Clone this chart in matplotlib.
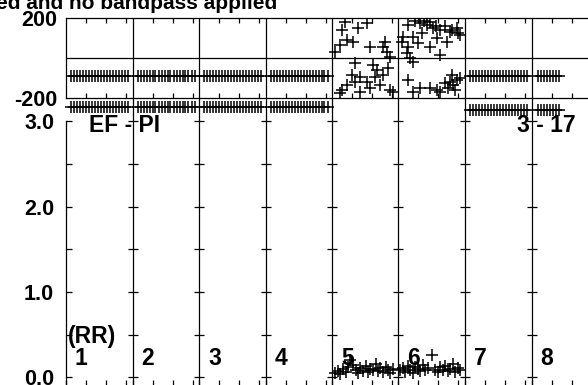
import matplotlib
matplotlib.use("Agg")
import matplotlib.pyplot as plt

plt.rcParams["font.family"] = ["Liberation Sans", "DejaVu Sans"]
plt.rcParams["font.weight"] = "bold"
plt.rcParams["axes.unicode_minus"] = False

# one segment per station, local time axis in each (units of the small ticks)
SEG = 3.325
stations = ["1", "2", "3", "4", "5", "6", "7", "8"]

# regular sampling used for the flat traces
full_times = [0.25, 0.40, 0.55, 0.70, 0.85, 1.00, 1.15, 1.30, 1.45, 1.60,
              1.75, 1.90, 2.05, 2.20, 2.35, 2.50, 2.65, 2.80, 2.95, 3.10]
short_times = [0.30, 0.45, 0.60, 0.75, 0.90, 1.05, 1.20, 1.35]

# flat traces in the upper panel (None = no flat trace for that station)
upper_level = [-90, -90, -90, -90, None, None, -90, -90]
lower_level = [-242, -242, -242, -242, None, None, -258, -258]
trace_len = ["full", "full", "full", "full", None, None, "full", "short"]

# scattered values for stations 5 and 6, upper panel
st5_t = [0.65, 1.75, 1.30, 0.50, 0.75, 1.05, 0.40, 0.15, 1.90, 2.65, 2.55, 2.75,
         2.90, 1.15, 2.05, 2.25, 2.80, 1.00, 1.40, 1.15, 0.75, 0.50, 1.75, 1.90,
         2.40, 1.40, 0.40, 2.15, 2.55, 2.90, 3.05]
st5_v = [180, 175, 150, 140, 91, 81, 66, 31, 56, 81, 56, 31,
         6, -24, -34, -58, -48, -83, -93, -118, -133, -158, -118, -148,
         -133, -168, -172, -93, -83, -158, -168]
st6_t = [0.48, 1.08, 1.43, 1.73, 2.08, 2.58, 2.93, 2.98, 0.23, 0.73, 1.18, 1.93,
         2.43, 0.18, 0.48, 0.98, 1.58, 2.08, 0.58, 0.73, 0.43, 0.83, 1.28, 1.58,
         1.88, 2.33, 2.68, 3.08,
         0.48, 1.08, 1.58, 1.93, 2.33, 2.58, 2.73, 2.93, 2.48, 0.73, 2.08, 2.83,
         2.68, 3.08]
st6_v = [165, 175, 165, 150, 140, 130, 150, 125, 106, 106, 125, 101,
         81, 81, 56, 76, 56, 16, 1, -19, 26, 185, 185, 180,
         160, 160, 140, 115,
         -108, -148, -148, -158, -123, -118, -133, -108, -148, -168, -168, -158,
         -83, -98]

# RR values for stations 5 and 6, lower panel
rr5_t = [0.15, 0.30, 0.42, 0.55, 0.68, 0.80, 0.92, 1.05, 1.18, 1.30, 1.42, 1.55,
         1.68, 1.80, 1.92, 2.05, 2.18, 2.30, 2.42, 2.55, 2.68, 2.80, 2.92, 3.05]
rr5_v = [0.05, 0.07, 0.04, 0.10, 0.06, 0.12, 0.20, 0.14, 0.09, 0.05, 0.11, 0.07,
         0.13, 0.06, 0.10, 0.08, 0.15, 0.07, 0.11, 0.06, 0.12, 0.09, 0.05, 0.10]
rr6_t = [0.10, 0.22, 0.35, 0.48, 0.60, 0.72, 0.85, 0.98, 1.10, 1.22, 1.35, 1.48,
         1.70, 1.85, 1.98, 2.10, 2.22, 2.35, 2.48, 2.60, 2.72, 2.85, 2.98, 3.10]
rr6_v = [0.08, 0.11, 0.06, 0.13, 0.09, 0.05, 0.12, 0.10, 0.07, 0.14, 0.08, 0.11,
         0.26, 0.09, 0.06, 0.12, 0.08, 0.13, 0.07, 0.10, 0.15, 0.06, 0.11, 0.09]

W, H = 588, 385
FS = 15.5


def px_box(x0, y0, x1, y1):
    return [x0 / W, 1 - y1 / H, (x1 - x0) / W, (y1 - y0) / H]


fig = plt.figure(figsize=(W / 100, H / 100), dpi=100)
ax_top = fig.add_axes(px_box(66, 18, 640, 98.5))
ax_bot = fig.add_axes(px_box(66, 121.3, 640, 387))

xmax = (640 - 66) / 20
mk = dict(ls="none", marker="+", ms=9, mew=1.1, color="black")

# upper panel
for i, st in enumerate(stations):
    x0 = i * SEG
    if trace_len[i] is None:
        continue
    times = full_times if trace_len[i] == "full" else short_times
    xs = [x0 + t for t in times]
    ax_top.plot(xs, [upper_level[i]] * len(xs), **mk)
    ax_top.plot(xs, [lower_level[i]] * len(xs), clip_on=False, **mk)

ax_top.plot([4 * SEG + t for t in st5_t], st5_v, **mk)
ax_top.plot([5 * SEG + t for t in st6_t], st6_v, **mk)
ax_top.axhline(0, color="black", lw=0.9)

small = [k * SEG + j for k in range(9) for j in (1, 2, 3)]
ax_top.set_xticks(small)
ax_top.set_yticks([-200, 200])
ax_top.set_yticklabels(["-200", "200"], fontsize=FS, fontweight="bold")
ax_top.tick_params(axis="x", direction="in", top=True, bottom=True, length=3.3,
                   width=0.9, labelbottom=False)
ax_top.tick_params(axis="y", length=0, pad=6.5)
ax_top.set_xlim(0, xmax)  # after set_xticks, which widens the view
ax_top.set_ylim(-200, 200)
for s in ax_top.spines.values():
    s.set_linewidth(0.9)

# lower panel
ax_bot.plot([4 * SEG + t for t in rr5_t], rr5_v, **mk)
ax_bot.plot([5 * SEG + t for t in rr6_t], rr6_v, **mk)

ax_bot.set_yticks([0, 1, 2, 3])
ax_bot.set_yticklabels(["0.0", "1.0", "2.0", "3.0"], fontsize=FS, fontweight="bold")
ax_bot.set_yticks([0.5, 1.5, 2.5], minor=True)
ax_bot.set_xticks([k * SEG + j for k in range(9) for j in (0, 1, 2, 3)])
ax_bot.tick_params(axis="x", direction="in", length=5, width=0.9, labelbottom=False)
ax_bot.tick_params(axis="y", which="both", direction="in", length=4.3, width=0.9, pad=8.5)
ax_bot.set_xlim(0, xmax)
ax_bot.set_ylim(-0.114, 3.0)
ax_bot.spines["top"].set_visible(False)
for s in ax_bot.spines.values():
    s.set_linewidth(0.9)

tick_rows = [0, 0.5, 1.0, 1.5, 2.0, 2.5, 3.0]
for k in range(1, 9):
    xb = k * SEG
    ax_top.axvline(xb, color="black", lw=0.9)
    ax_bot.axvline(xb, ymin=0, ymax=1.0858, color="black", lw=0.9, clip_on=False)
    ax_bot.plot([xb] * len(tick_rows), tick_rows, ls="none", marker="_", ms=7.5,
                mew=0.9, color="black", clip_on=False)

for i, st in enumerate(stations):
    ax_bot.text(i * SEG + 0.45, 0.145, st, fontsize=16.5, fontweight="bold",
                ha="left", va="baseline")

ax_bot.text(0.1, 0.40, "(RR)", fontsize=16.5, fontweight="bold", ha="left", va="baseline")
ax_bot.text(1.15, 2.876, "EF - PI", fontsize=16.5, fontweight="bold", ha="left", va="baseline")
ax_bot.text(6 * SEG + 2.6, 2.876, "3 - 17", fontsize=16.5, fontweight="bold",
            ha="left", va="baseline")

fig.text(-4 / W, 1 - 9 / H, "ed and no bandpass applied", fontsize=15,
         fontweight="bold", ha="left", va="baseline")

fig.savefig("out.png", dpi=100)
